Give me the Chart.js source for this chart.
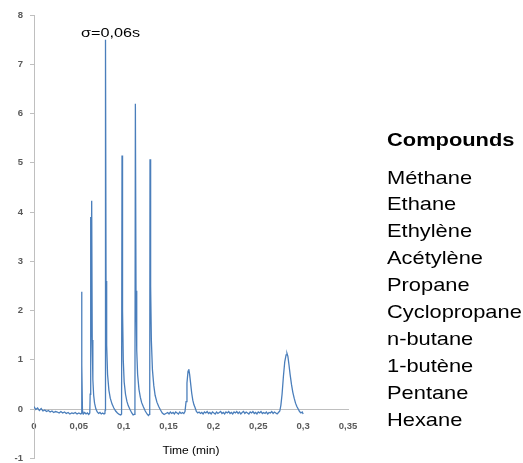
<!DOCTYPE html>
<html>
<head>
<meta charset="utf-8">
<script src="https://cdn.jsdelivr.net/npm/chart.js@4.4.1/dist/chart.umd.min.js"></script>
<style>
    body { margin: 0; background: #fff; }
    #wrap { position: relative; width: 523px; height: 463px; overflow: hidden; }
    #chart { position: absolute; left: 0; top: 0; }
    #legend {
        position: absolute; left: 387px; top: 127px;
        font-family: 'Liberation Sans', Arial, sans-serif; color: #000;
        transform: scaleX(1.15); transform-origin: left top;
    }
    #legend .head { font-weight: bold; font-size: 19px; line-height: 26.5px; margin-bottom: 11px; }
    #legend .item { font-size: 19px; line-height: 26.9px; white-space: nowrap; }
</style>
</head>
<body>
<div id="wrap">
    <!-- canvas a bit taller than the window: the x axis sits at y=0, so the plot runs down to -1 -->
    <canvas id="chart" width="523" height="471"></canvas>
    <div id="legend"></div>
</div>
<script>
// Chromatogram trace: [time (min), signal]
const trace = [
    // baseline before first peak
    [0, 0.05], [0.002, -0.01], [0.004, 0.02], [0.006, -0.03], [0.008, 0.01], [0.010, -0.04],
    [0.012, -0.02], [0.014, -0.05], [0.016, -0.03], [0.018, -0.06], [0.020, -0.04], [0.022, -0.07],
    [0.024, -0.05], [0.026, -0.06], [0.028, -0.08], [0.030, -0.05], [0.032, -0.08], [0.034, -0.06],
    [0.036, -0.09], [0.038, -0.07], [0.040, -0.10], [0.042, -0.08], [0.044, -0.09], [0.046, -0.07],
    [0.048, -0.10], [0.050, -0.08], [0.052, -0.10],
    // peak 1
    [0.0526, -0.09], [0.053, 2.38], [0.0535, 0.9], [0.054, -0.02], [0.055, -0.10], [0.0565, -0.07],
    [0.058, -0.10], [0.0595, -0.08], [0.061, -0.11], [0.0622, -0.08],
    // peak 2 (with shoulder)
    [0.0626, 0.3], [0.0629, 3.9], [0.0635, 0.8], [0.0643, 4.23], [0.0649, 1.4], [0.0656, 0.6],
    [0.0665, 0.28], [0.0675, 0.12], [0.069, 0.0], [0.0705, -0.06], [0.072, -0.09], [0.0735, -0.07],
    [0.075, -0.10], [0.0765, -0.08], [0.078, -0.10], [0.079, -0.09],
    // peak 3
    [0.0793, -0.02], [0.0797, 7.5], [0.0803, 2.6], [0.081, 1.3], [0.082, 0.7], [0.0835, 0.38],
    [0.085, 0.22], [0.087, 0.1], [0.089, 0.02], [0.091, -0.04], [0.093, -0.08], [0.095, -0.11],
    [0.0967, -0.12], [0.0976, -0.10],
    // peak 4
    [0.0981, 5.15], [0.0987, 2.0], [0.0995, 1.0], [0.1005, 0.55], [0.102, 0.3], [0.1035, 0.16],
    [0.105, 0.07], [0.107, -0.01], [0.109, -0.08], [0.1105, -0.12], [0.1118, -0.11], [0.1125, -0.06],
    // peak 5
    [0.113, 6.2], [0.1137, 2.4], [0.1145, 1.2], [0.1155, 0.7], [0.117, 0.4], [0.1185, 0.24],
    [0.12, 0.13], [0.122, 0.04], [0.124, -0.04], [0.126, -0.10], [0.1275, -0.13], [0.1285, -0.11],
    [0.129, -0.05],
    // peak 6
    [0.1293, 5.07], [0.13, 2.5], [0.1308, 1.4], [0.132, 0.8], [0.1335, 0.48], [0.135, 0.28],
    [0.137, 0.14], [0.139, 0.05], [0.141, -0.02], [0.143, -0.08], [0.145, -0.11], [0.147, -0.09],
    // baseline
    [0.149, -0.07], [0.1505, -0.10], [0.152, -0.06], [0.1535, -0.09], [0.155, -0.07], [0.1565, -0.10],
    [0.158, -0.06], [0.1595, -0.08], [0.161, -0.10], [0.1625, -0.06], [0.164, -0.09], [0.1655, -0.07],
    [0.167, -0.09],
    // peak 7
    [0.1683, -0.05], [0.1695, 0.15], [0.1705, 0.53], [0.1717, 0.77], [0.1725, 0.81], [0.1735, 0.7],
    [0.1747, 0.5], [0.1758, 0.32], [0.177, 0.18], [0.1782, 0.09], [0.1795, 0.03], [0.181, -0.05],
    [0.1825, -0.08],
    // long baseline
    [0.184, -0.06], [0.1855, -0.09], [0.187, -0.07], [0.1885, -0.10], [0.19, -0.06], [0.1915, -0.08],
    [0.193, -0.05], [0.1945, -0.09], [0.196, -0.07], [0.1975, -0.10], [0.199, -0.06], [0.2005, -0.08],
    [0.202, -0.10], [0.2035, -0.06], [0.205, -0.09], [0.2065, -0.07], [0.208, -0.05], [0.2095, -0.09],
    [0.211, -0.07], [0.2125, -0.10], [0.214, -0.06], [0.2155, -0.08], [0.217, -0.05], [0.2185, -0.09],
    [0.22, -0.07], [0.2215, -0.10], [0.223, -0.06], [0.2245, -0.08], [0.226, -0.05], [0.2275, -0.09],
    [0.229, -0.06], [0.2305, -0.10], [0.232, -0.07], [0.2335, -0.05], [0.235, -0.09], [0.2365, -0.06],
    [0.238, -0.08], [0.2395, -0.10], [0.241, -0.06], [0.2425, -0.08], [0.244, -0.05], [0.2455, -0.09],
    [0.247, -0.07], [0.2485, -0.10], [0.25, -0.06], [0.2515, -0.08], [0.253, -0.05], [0.2545, -0.09],
    [0.256, -0.07], [0.2575, -0.09], [0.259, -0.06], [0.2605, -0.10], [0.262, -0.07], [0.2635, -0.08],
    [0.265, -0.05], [0.2665, -0.09], [0.268, -0.06], [0.2695, -0.08], [0.271, -0.10], [0.2725, -0.07],
    // peak 8
    [0.274, -0.04], [0.2752, 0.08], [0.2765, 0.3], [0.278, 0.66], [0.2795, 0.96], [0.281, 1.1],
    [0.282, 1.13], [0.283, 1.07], [0.2842, 0.9], [0.2855, 0.7], [0.287, 0.5], [0.2885, 0.34],
    [0.29, 0.22], [0.2915, 0.12], [0.293, 0.05], [0.2945, 0.0], [0.296, -0.05], [0.2975, -0.08],
    [0.299, -0.06], [0.3, -0.10]
];

const compounds = ['Méthane', 'Ethane', 'Ethylène', 'Acétylène', 'Propane',
    'Cyclopropane', 'n-butane', '1-butène', 'Pentane', 'Hexane'];
const legendTitle = 'Compounds';
const xTitle = 'Time (min)';
const sigmaNote = { text: 'σ=0,06s', x: 0.0853, y: 7.56 };

// legend on the right
const legend = document.getElementById('legend');
legend.innerHTML = `<div class="head">${legendTitle}</div>` +
    compounds.map(c => `<div class="item">${c}</div>`).join('');

// the reference text is a little stretched sideways, so draw it with a scaleX
function drawStretched(ctx, text, x, y, font, sx) {
    ctx.save();
    ctx.translate(x, y);
    ctx.scale(sx, 1);
    ctx.font = font;
    ctx.fillStyle = '#000';
    ctx.textAlign = 'center';
    ctx.textBaseline = 'alphabetic';
    ctx.fillText(text, 0, 0);
    ctx.restore();
}

const chartTexts = {
    id: 'chartTexts',
    afterDraw(chart) {
        const { ctx, scales, chartArea } = chart;
        const family = '"Liberation Sans", Arial, sans-serif';
        drawStretched(ctx, sigmaNote.text,
            scales.x.getPixelForValue(sigmaNote.x), scales.y.getPixelForValue(sigmaNote.y),
            '13.5px ' + family, 1.2);
        drawStretched(ctx, xTitle,
            (chartArea.left + chartArea.right) / 2, scales.y.getPixelForValue(0) + 45,
            '10px ' + family, 1.2);
    }
};

const tickFont = { family: "'Liberation Sans', Arial, sans-serif", size: 9.5, weight: 'bold' };

new Chart(document.getElementById('chart'), {
    type: 'line',
    data: {
        datasets: [{
            data: trace.map(([t, v]) => ({ x: t, y: v })),
            borderColor: '#4a7ebb',
            borderWidth: 1.3,
            pointRadius: 0,
            tension: 0,
            fill: false
        }]
    },
    options: {
        responsive: false,
        animation: false,
        layout: { padding: { left: 0, right: 175, top: 15, bottom: 0 } },
        scales: {
            x: {
                type: 'linear',
                position: { y: 0 },
                min: 0,
                max: 0.35,
                grid: { drawOnChartArea: false, drawTicks: false },
                border: { color: '#bfbfbf' },
                ticks: {
                    stepSize: 0.05,
                    autoSkip: false,
                    maxRotation: 0,
                    padding: 12,
                    color: '#595959',
                    font: tickFont,
                    callback: v => String(+v.toFixed(2)).replace('.', ',')
                }
            },
            y: {
                min: -1,
                max: 8,
                afterFit: scale => { scale.width = 34; },
                grid: { drawOnChartArea: false, drawTicks: true, tickLength: 4, color: '#bfbfbf' },
                border: { color: '#bfbfbf' },
                ticks: {
                    stepSize: 1,
                    padding: 7,
                    color: '#595959',
                    font: tickFont
                }
            }
        },
        plugins: {
            legend: { display: false },
            tooltip: { enabled: false }
        }
    },
    plugins: [chartTexts]
});
</script>
</body>
</html>
